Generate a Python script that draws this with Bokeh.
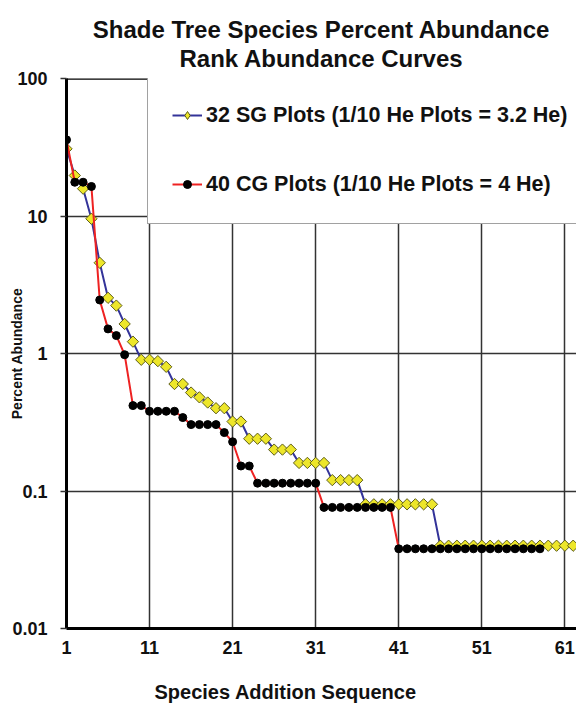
from bokeh.plotting import figure
from bokeh.models import (Range1d, FixedTicker, Title, CustomJSTickFormatter,
                          Legend, LegendItem, Span)
from bokeh.embed import file_html
from bokeh.resources import INLINE

# ---------------- data ----------------
sg_label = "32 SG Plots (1/10 He Plots = 3.2 He)"
cg_label = "40 CG Plots (1/10 He Plots = 4 He)"

sg_rank = list(range(1, 63))
sg_pct = [30.8, 19.7, 15.8, 9.55, 4.57, 2.54, 2.23, 1.64, 1.22, 0.90,
          0.90, 0.88, 0.80, 0.60, 0.60, 0.52, 0.48, 0.44, 0.40, 0.40,
          0.32, 0.32, 0.24, 0.24, 0.24, 0.20, 0.20, 0.20, 0.16, 0.16,
          0.16, 0.16, 0.12, 0.12, 0.12, 0.12, 0.08, 0.08, 0.08, 0.08,
          0.08, 0.08, 0.08, 0.08, 0.08, 0.04, 0.04, 0.04, 0.04, 0.04,
          0.04, 0.04, 0.04, 0.04, 0.04, 0.04, 0.04, 0.04, 0.04, 0.04,
          0.04, 0.04]

cg_rank = list(range(1, 59))
cg_pct = [35.8, 17.6, 17.6, 16.4, 2.45, 1.51, 1.35, 0.98, 0.418, 0.418,
          0.380, 0.380, 0.380, 0.380, 0.342, 0.304, 0.304, 0.304, 0.304, 0.266,
          0.228, 0.152, 0.152, 0.114, 0.114, 0.114, 0.114, 0.114, 0.114, 0.114,
          0.114, 0.076, 0.076, 0.076, 0.076, 0.076, 0.076, 0.076, 0.076, 0.076,
          0.038, 0.038, 0.038, 0.038, 0.038, 0.038, 0.038, 0.038, 0.038, 0.038,
          0.038, 0.038, 0.038, 0.038, 0.038, 0.038, 0.038, 0.038]

x_ticks = [1, 11, 21, 31, 41, 51, 61]
y_ticks = [0.01, 0.1, 1, 10, 100]

title_lines = ["Shade Tree Species Percent Abundance", "Rank Abundance Curves"]
x_title = "Species Addition Sequence"
y_title = "Percent Abundance"

FONT = "Liberation Sans"
INK = "#111111"
SG_LINE = "#333399"
SG_FILL = "#EDE62A"
SG_EDGE = "#5E5E1A"
CG_LINE = "#EE2222"

# ---------------- figure ----------------
p = figure(width=576, height=705, y_axis_type="log",
           x_range=Range1d(1, 62.4), y_range=Range1d(0.01, 100),
           output_backend="svg", toolbar_location=None,
           min_border_left=66, min_border_right=0,
           min_border_top=78, min_border_bottom=77)

# two-line title: the added Title sits nearest the frame (second line)
p.title.text = title_lines[0]
p.title.align = "center"
p.title.text_font = FONT
p.title.text_font_style = "bold"
p.title.text_font_size = "24px"
p.title.text_color = INK
p.title.standoff = -14
p.add_layout(Title(text=title_lines[1], align="center", text_font=FONT,
                   text_font_style="bold", text_font_size="24px",
                   text_color=INK, standoff=14), "above")

p.outline_line_color = None
p.add_layout(Span(location=100, dimension="width", line_color="black",
                  line_width=2.5, level="underlay"))

# axes
p.xaxis.ticker = FixedTicker(ticks=x_ticks, minor_ticks=[])
p.yaxis.ticker = FixedTicker(ticks=y_ticks, minor_ticks=[])
p.yaxis.formatter = CustomJSTickFormatter(code="return tick.toString();")
for ax in (p.xaxis[0], p.yaxis[0]):
    ax.axis_line_color = "black"
    ax.axis_line_width = 3
    ax.major_label_text_font = FONT
    ax.major_label_text_font_style = "bold"
    ax.major_label_text_font_size = "18px"
    ax.major_label_text_color = INK
    ax.minor_tick_line_color = None
p.xaxis.major_tick_line_color = None
p.xaxis.major_tick_out = 0
p.xaxis.major_tick_in = 0
p.xaxis.major_label_standoff = 12
p.yaxis.major_tick_out = 6
p.yaxis.major_tick_in = 0
p.yaxis.major_tick_line_color = "#333333"
p.yaxis.major_tick_line_width = 1.5
p.yaxis.major_label_standoff = 13

p.yaxis.axis_label = y_title
p.yaxis.axis_label_standoff = -16
p.yaxis.axis_label_text_font = FONT
p.yaxis.axis_label_text_font_style = "bold"
p.yaxis.axis_label_text_font_size = "14px"
p.yaxis.axis_label_text_color = INK

# small blank spacer between tick labels and the x-axis title
p.add_layout(Title(text=" ", text_font_size="2px", standoff=18), "below")
p.add_layout(Title(text=x_title, align="left", offset=88, text_font=FONT,
                   text_font_style="bold", text_font_size="20px",
                   text_color=INK, standoff=0), "below")

# grid
for g in (p.xgrid[0], p.ygrid[0]):
    g.grid_line_color = "#333333"
    g.grid_line_width = 1.5
    g.grid_line_alpha = 1

# series
sg_line = p.line(sg_rank, sg_pct, line_color=SG_LINE, line_width=2)
# diamond-shaped key for the legend, hidden beneath the plotted markers
sg_key = p.scatter(sg_rank, sg_pct, marker="diamond", size=9,
                   fill_color=SG_FILL, line_color=SG_EDGE, line_width=1)
p.scatter(sg_rank, sg_pct, marker="square", angle=0.785398, size=8,
          fill_color=SG_FILL, line_color=SG_EDGE, line_width=1)
cg_line = p.line(cg_rank, cg_pct, line_color=CG_LINE, line_width=2)
cg_pts = p.scatter(cg_rank, cg_pct, marker="circle", size=8,
                   fill_color="black", line_color="black")

# legend
lg = Legend(items=[LegendItem(label=sg_label, renderers=[sg_line, sg_key]),
                   LegendItem(label=cg_label, renderers=[cg_line, cg_pts])])
lg.location = (81, 404)
lg.margin = 0
lg.padding = 24
lg.spacing = 39
lg.label_height = 30
lg.glyph_height = 20
lg.glyph_width = 30
lg.label_standoff = 4
lg.label_text_font = FONT
lg.label_text_font_style = "bold"
lg.label_text_font_size = "21.5px"
lg.label_text_color = INK
lg.border_line_color = "#444444"
lg.border_line_width = 1.5
lg.background_fill_color = "white"
lg.background_fill_alpha = 1
p.add_layout(lg, "center")

open("out.html", "w").write(file_html(p, INLINE))
